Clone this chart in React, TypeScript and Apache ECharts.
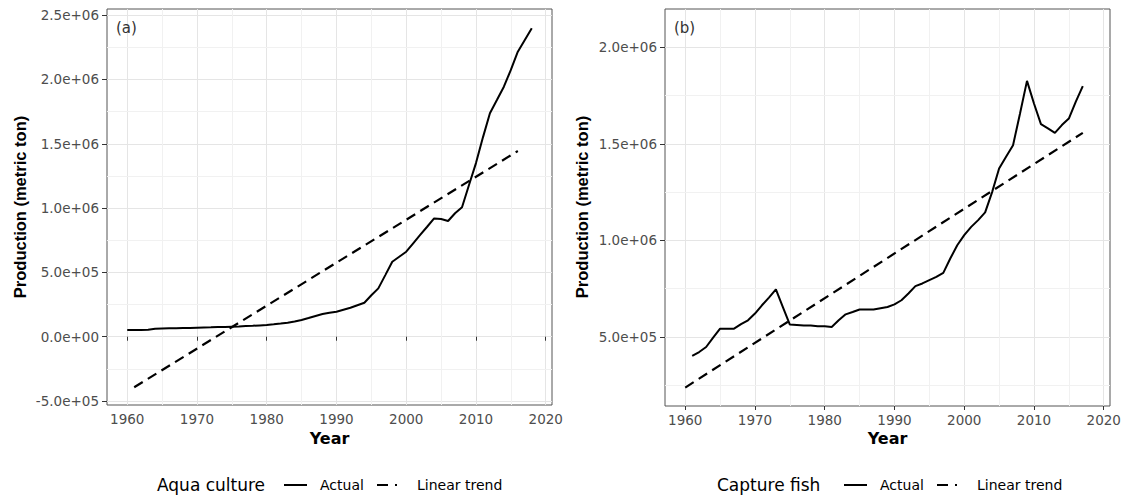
import React, { useEffect, useRef } from "react";
import * as echarts from "echarts";

// ---- Data ----
const aquaYears: number[] = [
  1960, 1961, 1962, 1963, 1964, 1965, 1966, 1967, 1968, 1969,
  1970, 1971, 1972, 1973, 1974, 1975, 1976, 1977, 1978, 1979,
  1980, 1981, 1982, 1983, 1984, 1985, 1986, 1987, 1988, 1989,
  1990, 1991, 1992, 1993, 1994, 1995, 1996, 1997, 1998, 1999,
  2000, 2001, 2002, 2003, 2004, 2005, 2006, 2007, 2008, 2009,
  2010, 2011, 2012, 2013, 2014, 2015, 2016, 2017, 2018,
];
const aquaActual: number[] = [
  52000, 52000, 53000, 54000, 62000, 64000, 65000, 66000, 67000, 68000,
  70000, 72000, 73000, 75000, 76000, 78000, 80000, 83000, 85000, 88000,
  91000, 96000, 102000, 109000, 118000, 130000, 145000, 161000, 176000, 186000,
  194000, 210000, 225000, 245000, 264000, 322000, 376000, 479000, 583000, 622000,
  661000, 726000, 791000, 855000, 920000, 915000, 900000, 960000, 1006000, 1180000,
  1350000, 1550000, 1737000, 1840000, 1944000, 2074000, 2216000, 2307000, 2398000,
];
const aquaTrendYears: number[] = [1961, 2016];
const aquaTrend: number[] = [-393000, 1444000];

const captureYears: number[] = [
  1961, 1962, 1963, 1964, 1965, 1966, 1967, 1968, 1969,
  1970, 1971, 1972, 1973, 1974, 1975, 1976, 1977, 1978, 1979,
  1980, 1981, 1982, 1983, 1984, 1985, 1986, 1987, 1988, 1989,
  1990, 1991, 1992, 1993, 1994, 1995, 1996, 1997, 1998, 1999,
  2000, 2001, 2002, 2003, 2004, 2005, 2006, 2007, 2008, 2009,
  2010, 2011, 2012, 2013, 2014, 2015, 2016, 2017,
];
const captureActual: number[] = [
  402000, 422000, 448000, 497000, 543000, 543000, 543000, 566000, 586000,
  621000, 664000, 704000, 746000, 655000, 564000, 562000, 559000, 559000, 555000,
  555000, 552000, 586000, 617000, 629000, 642000, 642000, 642000, 649000, 655000,
  669000, 690000, 725000, 763000, 777000, 794000, 811000, 832000, 906000, 975000,
  1027000, 1070000, 1105000, 1145000, 1250000, 1372000, 1433000, 1493000, 1657000, 1826000,
  1709000, 1602000, 1580000, 1557000, 1597000, 1631000, 1718000, 1799000,
];
const captureTrendYears: number[] = [1960, 2017];
const captureTrend: number[] = [238000, 1557000];

const xTicks: number[] = [1960, 1970, 1980, 1990, 2000, 2010, 2020];
const yTicksA: number[] = [-500000, 0, 500000, 1000000, 1500000, 2000000, 2500000];
const yTicksB: number[] = [500000, 1000000, 1500000, 2000000];
const yMinorBaseB: number[] = [0, 500000, 1000000, 1500000, 2000000, 2500000];

const panelLabels = ["(a)", "(b)"];
const legendTitles = ["Aqua culture", "Capture fish"];
const seriesNames = ["Actual", "Linear trend"];
const xTitle = "Year";
const yTitle = "Production (metric ton)";

// ---- helpers ----
const pairs = (xs: number[], ys: number[]) => xs.map((x, i) => [x, ys[i]]);
const mids = (t: number[]) => t.slice(0, -1).map((v, i) => (v + t[i + 1]) / 2);

function sci(v: number): string {
  const s = v.toExponential(1);
  const [m, e] = s.split("e");
  const sign = e[0] === "-" ? "-" : "+";
  const n = Math.abs(parseInt(e, 10));
  return m + "e" + sign + String(n).padStart(2, "0");
}

const TICK_FONT = "DejaVu Sans";
const GRID_MAJOR = "#E5E5E5";
const GRID_MINOR = "#F1F1F1";
const BORDER = "#555555";

export default function App() {
  const ref = useRef<HTMLDivElement>(null);

  useEffect(() => {
    document.body.style.margin = "0";
    if (!ref.current) return;
    const chart = echarts.init(ref.current, undefined, { renderer: "svg" });

    const panels = [
      { left: 107, top: 9, width: 445, height: 396, xMin: 1957.1, xMax: 2020.9, yMin: -531000, yMax: 2548000, yTicks: yTicksA, yMinorBase: yTicksA, center: 329.5, yTitleX: 20 },
      { left: 665, top: 9, width: 445, height: 397, xMin: 1957.1, xMax: 2020.9, yMin: 142500, yMax: 2198000, yTicks: yTicksB, yMinorBase: yMinorBaseB, center: 887.5, yTitleX: 582 },
    ];

    const grids = panels.map((p) => ({
      left: p.left, top: p.top, width: p.width, height: p.height,
      show: true, borderColor: BORDER, borderWidth: 1, backgroundColor: "#fff",
      containLabel: false,
    }));

    const xAxes = panels.map((p, i) => ({
      type: "value", gridIndex: i, min: p.xMin, max: p.xMax,
      axisLine: { show: false },
      axisTick: { show: true, length: 4, customValues: xTicks, lineStyle: { color: "#333" } },
      axisLabel: {
        margin: 7, color: "#4D4D4D", fontFamily: TICK_FONT, fontSize: 13.5,
        customValues: xTicks,
        formatter: (v: number) => String(v),
      },
      splitLine: { show: true, lineStyle: { color: GRID_MAJOR, width: 1 } },
    }));

    const yAxes = panels.map((p, i) => ({
      type: "value", gridIndex: i, min: p.yMin, max: p.yMax,
      axisLine: { show: false },
      axisTick: { show: true, length: 5, customValues: p.yTicks, lineStyle: { color: "#333" } },
      axisLabel: {
        margin: 8, color: "#4D4D4D", fontFamily: TICK_FONT, fontSize: 13.5,
        customValues: p.yTicks,
        formatter: (v: number) => sci(v),
      },
      splitLine: { show: true, lineStyle: { color: GRID_MAJOR, width: 1 } },
    }));

    const minorSeries = panels.map((p, i) => {
      const xm = mids(xTicks).filter((v) => v > p.xMin && v < p.xMax);
      const ym = mids(p.yMinorBase).filter((v) => v > p.yMin && v < p.yMax);
      return {
        type: "line", xAxisIndex: i, yAxisIndex: i, data: [], z: 1, silent: true,
        markLine: {
          silent: true, symbol: "none", animation: false,
          label: { show: false },
          lineStyle: { color: GRID_MINOR, width: 1, type: "solid" },
          data: [...xm.map((v) => ({ xAxis: v })), ...ym.map((v) => ({ yAxis: v }))],
        },
      };
    });

    const dataSets = [
      { actual: pairs(aquaYears, aquaActual), trend: pairs(aquaTrendYears, aquaTrend) },
      { actual: pairs(captureYears, captureActual), trend: pairs(captureTrendYears, captureTrend) },
    ];

    const lineSeries: any[] = [];
    dataSets.forEach((d, i) => {
      lineSeries.push({
        name: seriesNames[0], type: "line", xAxisIndex: i, yAxisIndex: i, data: d.actual,
        showSymbol: false, symbol: "none", z: 5,
        lineStyle: { color: "#000", width: 2, type: "solid" },
      });
      lineSeries.push({
        name: seriesNames[1], type: "line", xAxisIndex: i, yAxisIndex: i, data: d.trend,
        showSymbol: false, symbol: "none", z: 5,
        lineStyle: { color: "#000", width: 2.2, type: [10, 6] },
      });
    });

    const graphics: any[] = [];
    panels.forEach((p, i) => {
      graphics.push({
        type: "text", left: p.left + 9, top: 20, z: 10,
        style: { text: panelLabels[i], fontFamily: TICK_FONT, fontSize: 15, fill: "#333" },
      });
      graphics.push({
        type: "text", x: p.center, y: 438, z: 10,
        style: { text: xTitle, fontFamily: TICK_FONT, fontWeight: "bold", fontSize: 16, fill: "#000", align: "center", verticalAlign: "middle" },
      });
      graphics.push({
        type: "text", x: p.yTitleX, y: 207, rotation: Math.PI / 2, z: 10,
        style: { text: yTitle, fontFamily: "Liberation Sans", fontWeight: "bold", fontSize: 16.5, fill: "#000", align: "center", verticalAlign: "middle" },
      });
    });

    const legendStarts = [157, 717];
    legendStarts.forEach((X, i) => {
      const cy = 485;
      graphics.push({
        type: "text", x: X, y: cy, z: 10,
        style: { text: legendTitles[i], fontFamily: TICK_FONT, fontSize: 17, fill: "#000", align: "left", verticalAlign: "middle" },
      });
      graphics.push({
        type: "line", z: 10, shape: { x1: X + 127, y1: cy, x2: X + 150, y2: cy },
        style: { stroke: "#000", lineWidth: 2 },
      });
      graphics.push({
        type: "text", x: X + 163, y: cy, z: 10,
        style: { text: seriesNames[0], fontFamily: TICK_FONT, fontSize: 14, fill: "#000", align: "left", verticalAlign: "middle" },
      });
      graphics.push({
        type: "line", z: 10, shape: { x1: X + 220, y1: cy, x2: X + 240, y2: cy },
        style: { stroke: "#000", lineWidth: 2, lineDash: [11, 7] },
      });
      graphics.push({
        type: "text", x: X + 260, y: cy, z: 10,
        style: { text: seriesNames[1], fontFamily: TICK_FONT, fontSize: 14, fill: "#000", align: "left", verticalAlign: "middle" },
      });
    });

    chart.setOption({
      animation: false,
      backgroundColor: "#fff",
      grid: grids,
      xAxis: xAxes,
      yAxis: yAxes,
      series: [...minorSeries, ...lineSeries],
      graphic: graphics,
    });

    return () => chart.dispose();
  }, []);

  return <div ref={ref} style={{ width: 1124, height: 498 }} />;
}
